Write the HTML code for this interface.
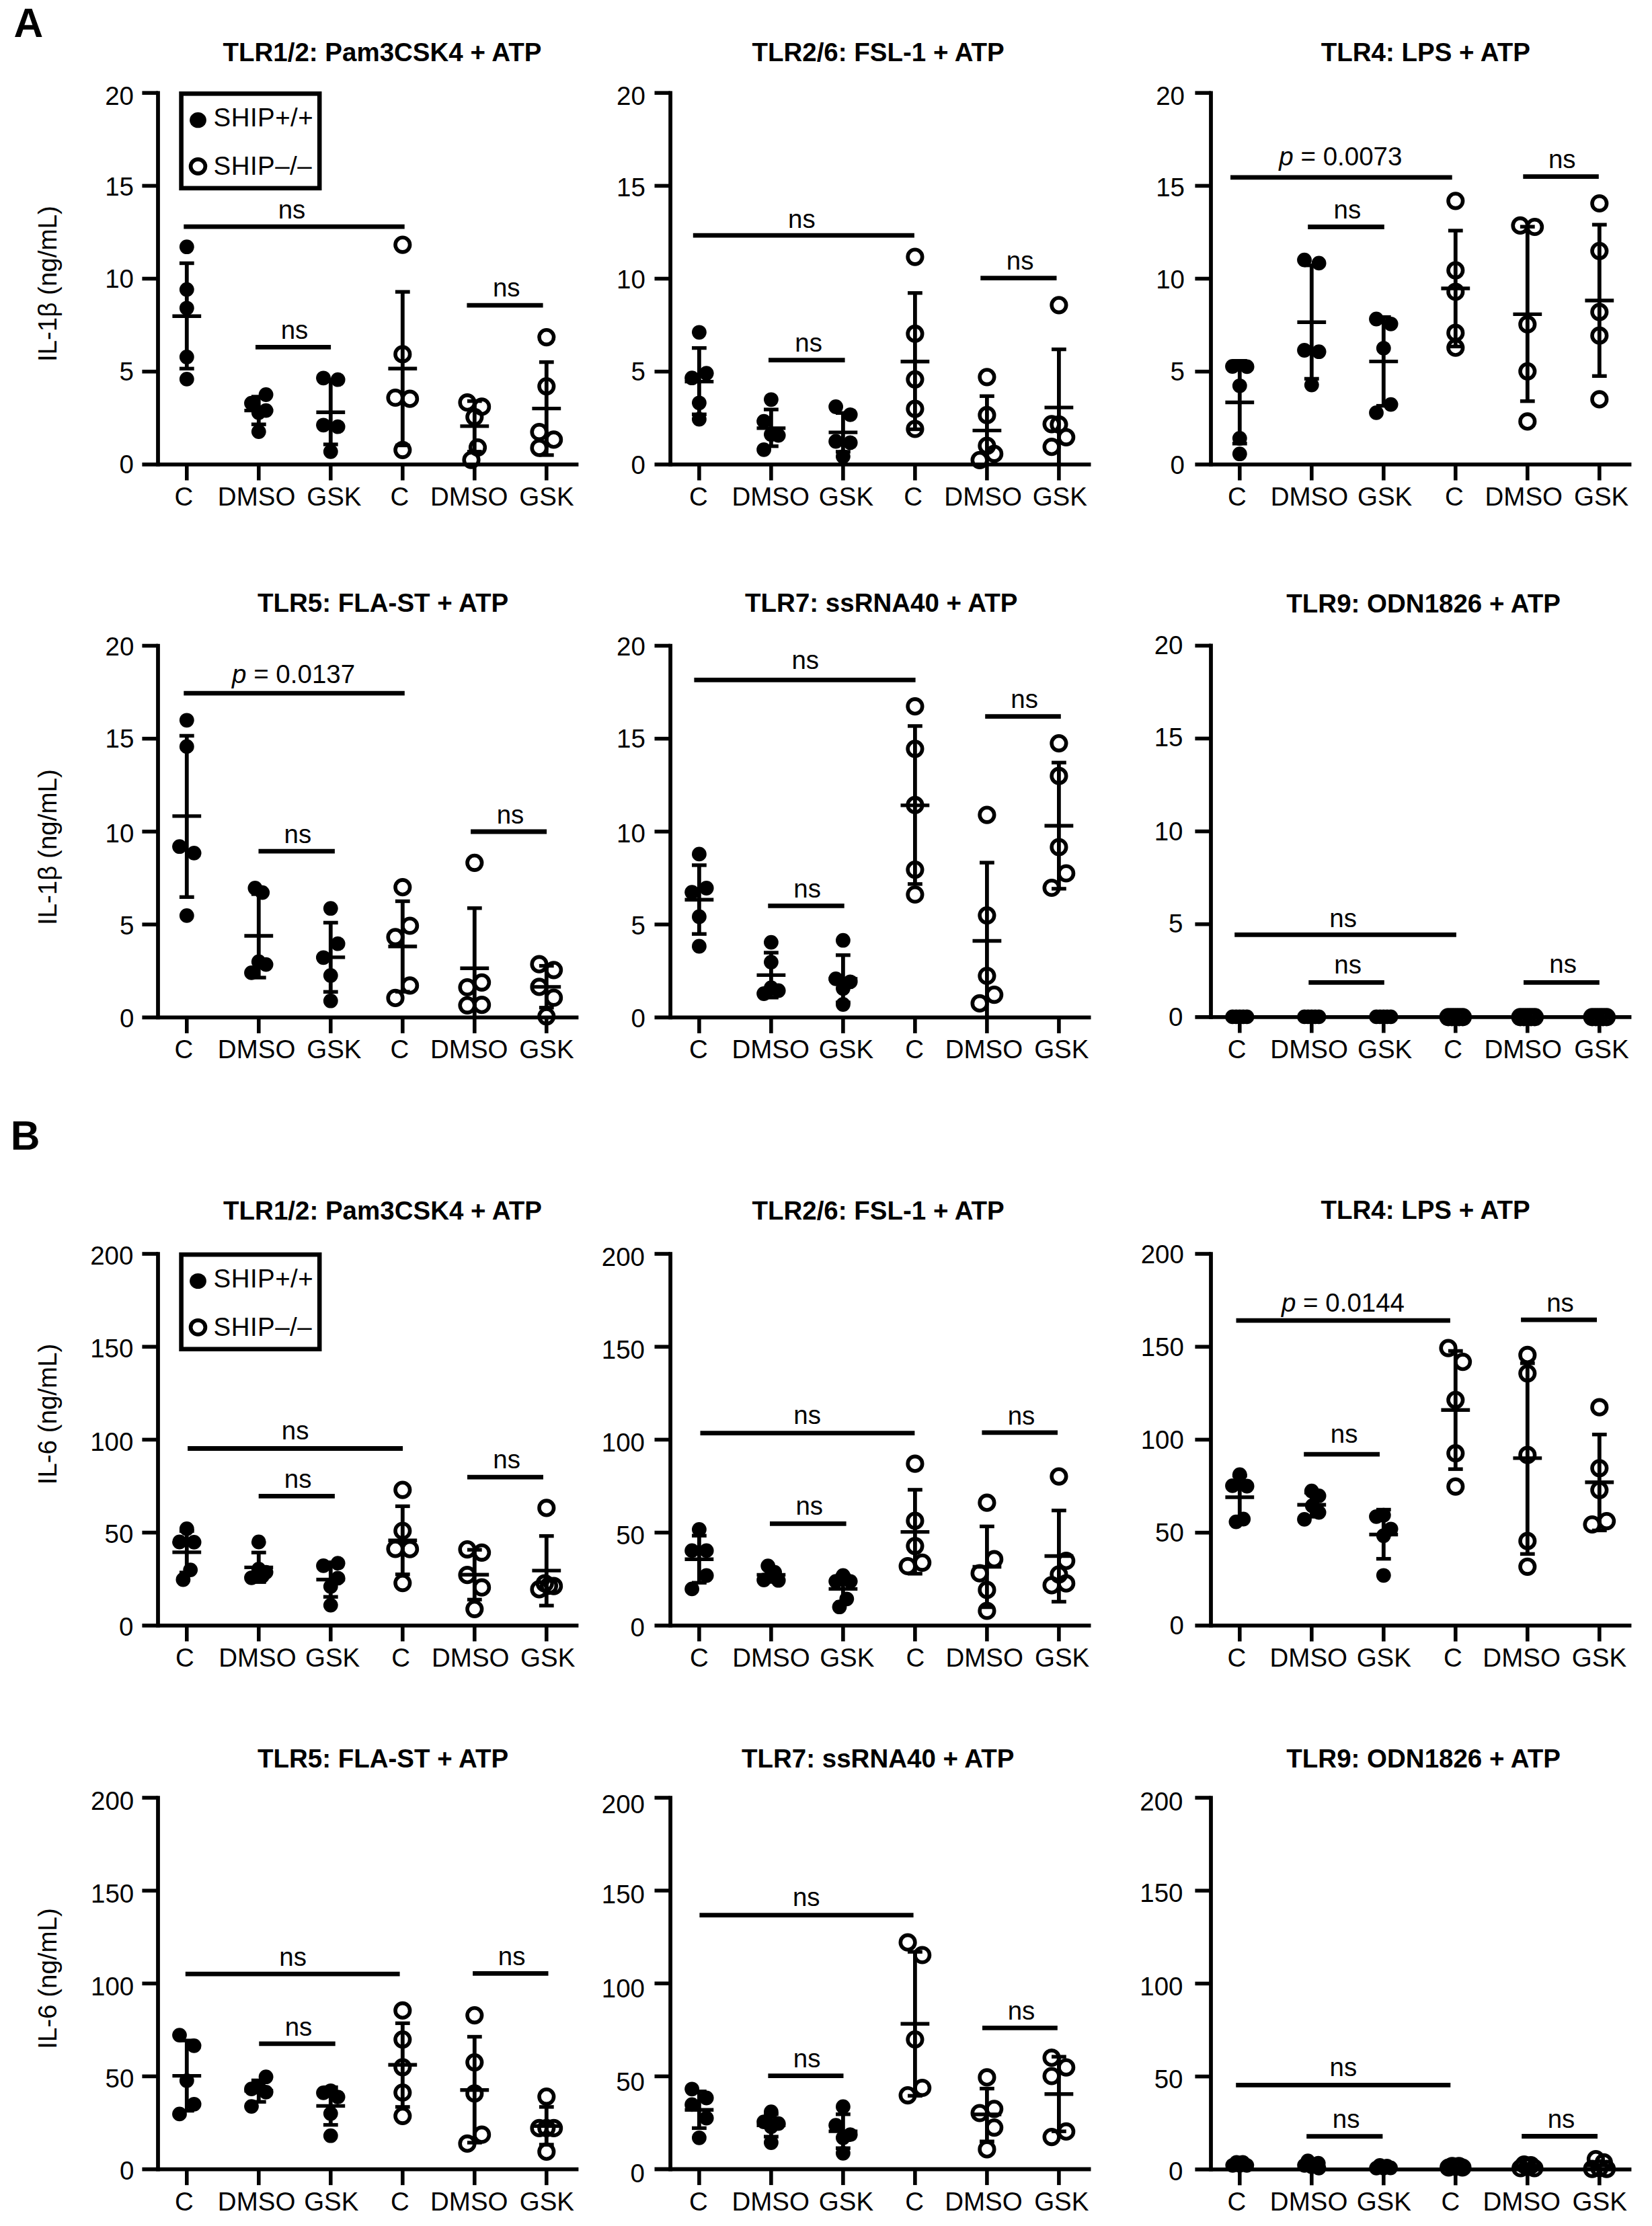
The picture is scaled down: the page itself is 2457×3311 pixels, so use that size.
<!DOCTYPE html>
<html lang="en"><head><meta charset="utf-8"><title>Figure</title>
<style>html,body{margin:0;padding:0;background:#fff}body{width:2457px;height:3311px;overflow:hidden}svg{display:block}text{font-family:"Liberation Sans",sans-serif;font-size:38.5px;fill:#000}.b{font-weight:bold}.m{text-anchor:middle}.e{text-anchor:end}.ln{stroke:#000;fill:none}.op{fill:none;stroke:#000;stroke-width:5.6}</style></head><body>
<svg width="2457" height="3311" viewBox="0 0 2457 3311">
<rect width="2457" height="3311" fill="#fff"/>
<text class="b" x="20.6" y="54.8" style="font-size:60.5px">A</text>
<text class="b" x="15.8" y="1709.8" style="font-size:60.5px">B</text>
<text class="m" transform="translate(83.8 422.2) rotate(-90)">IL-1β (ng/mL)</text>
<text class="m" transform="translate(83.8 1260.2) rotate(-90)">IL-1β (ng/mL)</text>
<text class="m" transform="translate(83.8 2103.5) rotate(-90)">IL-6 (ng/mL)</text>
<text class="m" transform="translate(83.8 2943) rotate(-90)">IL-6 (ng/mL)</text>
<g id="A1">
<text class="b m" x="568.4" y="90.8">TLR1/2: Pam3CSK4 + ATP</text>
<line class="ln" x1="235" y1="135.4" x2="235" y2="693.8" stroke-width="5.8"/>
<line class="ln" x1="211.4" y1="690.9" x2="860.4" y2="690.9" stroke-width="5.8"/>
<text class="e" x="199" y="704.3">0</text>
<line class="ln" x1="211.4" y1="552.7" x2="235" y2="552.7" stroke-width="5.6"/>
<text class="e" x="199" y="565.8">5</text>
<line class="ln" x1="211.4" y1="414.5" x2="235" y2="414.5" stroke-width="5.6"/>
<text class="e" x="199" y="427.7">10</text>
<line class="ln" x1="211.4" y1="276.4" x2="235" y2="276.4" stroke-width="5.6"/>
<text class="e" x="199" y="291.1">15</text>
<line class="ln" x1="211.4" y1="138.2" x2="235" y2="138.2" stroke-width="5.6"/>
<text class="e" x="199" y="155.6">20</text>
<line class="ln" x1="277.8" y1="690.9" x2="277.8" y2="714.5" stroke-width="5.6"/>
<text class="m" x="273.4" y="751.9">C</text>
<line class="ln" x1="384.8" y1="690.9" x2="384.8" y2="714.5" stroke-width="5.6"/>
<text class="m" x="381.6" y="751.9">DMSO</text>
<line class="ln" x1="491.8" y1="690.9" x2="491.8" y2="714.5" stroke-width="5.6"/>
<text class="m" x="496.9" y="751.9">GSK</text>
<line class="ln" x1="598.8" y1="690.9" x2="598.8" y2="714.5" stroke-width="5.6"/>
<text class="m" x="594.5" y="751.9">C</text>
<line class="ln" x1="705.8" y1="690.9" x2="705.8" y2="714.5" stroke-width="5.6"/>
<text class="m" x="697.8" y="751.9">DMSO</text>
<line class="ln" x1="812.8" y1="690.9" x2="812.8" y2="714.5" stroke-width="5.6"/>
<text class="m" x="813" y="751.9">GSK</text>
<line class="ln" x1="277.8" y1="391.5" x2="277.8" y2="548.3" stroke-width="5.8"/>
<line class="ln" x1="266.9" y1="391.5" x2="288.7" y2="391.5" stroke-width="5.4"/>
<line class="ln" x1="266.9" y1="548.3" x2="288.7" y2="548.3" stroke-width="5.4"/>
<line class="ln" x1="256.4" y1="470.3" x2="299.2" y2="470.3" stroke-width="5.4"/>
<circle cx="277.8" cy="367.2" r="10.9"/>
<circle cx="277.8" cy="430.6" r="10.9"/>
<circle cx="277.8" cy="458.3" r="10.9"/>
<circle cx="277.8" cy="531" r="10.9"/>
<circle cx="277.8" cy="563.9" r="10.9"/>
<line class="ln" x1="384.8" y1="590" x2="384.8" y2="631.2" stroke-width="5.8"/>
<line class="ln" x1="373.9" y1="590" x2="395.7" y2="590" stroke-width="5.4"/>
<line class="ln" x1="373.9" y1="631.2" x2="395.7" y2="631.2" stroke-width="5.4"/>
<line class="ln" x1="363.4" y1="610.6" x2="406.2" y2="610.6" stroke-width="5.4"/>
<circle cx="395.6" cy="587" r="10.9"/>
<circle cx="374" cy="599.7" r="10.9"/>
<circle cx="395.6" cy="610.6" r="10.9"/>
<circle cx="384.8" cy="613.7" r="10.9"/>
<circle cx="384.8" cy="642.1" r="10.9"/>
<line class="ln" x1="491.8" y1="565.6" x2="491.8" y2="661" stroke-width="5.8"/>
<line class="ln" x1="480.9" y1="565.6" x2="502.7" y2="565.6" stroke-width="5.4"/>
<line class="ln" x1="480.9" y1="661" x2="502.7" y2="661" stroke-width="5.4"/>
<line class="ln" x1="470.4" y1="613.3" x2="513.2" y2="613.3" stroke-width="5.4"/>
<circle cx="481" cy="562.3" r="10.9"/>
<circle cx="502.6" cy="564.7" r="10.9"/>
<circle cx="481" cy="632.3" r="10.9"/>
<circle cx="502.6" cy="634.7" r="10.9"/>
<circle cx="491.8" cy="671.8" r="10.9"/>
<line class="ln" x1="598.8" y1="434.1" x2="598.8" y2="662.5" stroke-width="5.8"/>
<line class="ln" x1="587.9" y1="434.1" x2="609.7" y2="434.1" stroke-width="5.4"/>
<line class="ln" x1="587.9" y1="662.5" x2="609.7" y2="662.5" stroke-width="5.4"/>
<line class="ln" x1="577.4" y1="548.3" x2="620.2" y2="548.3" stroke-width="5.4"/>
<circle class="op" cx="598.8" cy="364.1" r="10.8"/>
<circle class="op" cx="598.8" cy="526.9" r="10.8"/>
<circle class="op" cx="588" cy="591.5" r="10.8"/>
<circle class="op" cx="609.6" cy="593.2" r="10.8"/>
<circle class="op" cx="598.8" cy="669.3" r="10.8"/>
<line class="ln" x1="705.8" y1="596.6" x2="705.8" y2="671.8" stroke-width="5.8"/>
<line class="ln" x1="694.9" y1="596.6" x2="716.7" y2="596.6" stroke-width="5.4"/>
<line class="ln" x1="694.9" y1="671.8" x2="716.7" y2="671.8" stroke-width="5.4"/>
<line class="ln" x1="684.4" y1="633.9" x2="727.2" y2="633.9" stroke-width="5.4"/>
<circle class="op" cx="695" cy="598.7" r="10.8"/>
<circle class="op" cx="716.6" cy="604.9" r="10.8"/>
<circle class="op" cx="705.8" cy="620.3" r="10.8"/>
<circle class="op" cx="710.5" cy="665.6" r="10.8"/>
<circle class="op" cx="701" cy="684.1" r="10.8"/>
<line class="ln" x1="812.8" y1="538.6" x2="812.8" y2="676.9" stroke-width="5.8"/>
<line class="ln" x1="801.9" y1="538.6" x2="823.7" y2="538.6" stroke-width="5.4"/>
<line class="ln" x1="801.9" y1="676.9" x2="823.7" y2="676.9" stroke-width="5.4"/>
<line class="ln" x1="791.4" y1="607.6" x2="834.2" y2="607.6" stroke-width="5.4"/>
<circle class="op" cx="812.8" cy="501.6" r="10.8"/>
<circle class="op" cx="812.8" cy="574.6" r="10.8"/>
<circle class="op" cx="802" cy="642.5" r="10.8"/>
<circle class="op" cx="823.6" cy="653.9" r="10.8"/>
<circle class="op" cx="802" cy="666.2" r="10.8"/>
<line class="ln" x1="273.3" y1="337.1" x2="601.7" y2="337.1" stroke-width="6.8"/>
<text class="m" x="434" y="325.2">ns</text>
<line class="ln" x1="380" y1="516.4" x2="492.1" y2="516.4" stroke-width="6.8"/>
<text class="m" x="438" y="503.6">ns</text>
<line class="ln" x1="694.4" y1="454.2" x2="807.6" y2="454.2" stroke-width="6.8"/>
<text class="m" x="753.3" y="441.3">ns</text>
<rect class="ln" x="269.6" y="139.3" width="205.6" height="140.6" stroke-width="6.6"/>
<ellipse cx="294.5" cy="178.7" rx="12.4" ry="11.6"/>
<ellipse class="op" cx="294.5" cy="247.5" rx="10.9" ry="10.5" style="stroke-width:5.8"/>
<text x="317.5" y="188.2" style="letter-spacing:0.45px">SHIP+/+</text>
<text x="317.5" y="260.2" style="letter-spacing:0.45px">SHIP–/–</text>
</g>
<g id="A2">
<text class="b m" x="1306.1" y="90.8">TLR2/6: FSL-1 + ATP</text>
<line class="ln" x1="997.1" y1="135.4" x2="997.1" y2="693.8" stroke-width="5.8"/>
<line class="ln" x1="973.5" y1="690.9" x2="1622.5" y2="690.9" stroke-width="5.8"/>
<text class="e" x="959.8" y="704.9">0</text>
<line class="ln" x1="973.5" y1="552.7" x2="997.1" y2="552.7" stroke-width="5.6"/>
<text class="e" x="959.8" y="566.4">5</text>
<line class="ln" x1="973.5" y1="414.5" x2="997.1" y2="414.5" stroke-width="5.6"/>
<text class="e" x="959.8" y="428.8">10</text>
<line class="ln" x1="973.5" y1="276.4" x2="997.1" y2="276.4" stroke-width="5.6"/>
<text class="e" x="959.8" y="292">15</text>
<line class="ln" x1="973.5" y1="138.2" x2="997.1" y2="138.2" stroke-width="5.6"/>
<text class="e" x="959.8" y="155.7">20</text>
<line class="ln" x1="1039.9" y1="690.9" x2="1039.9" y2="714.5" stroke-width="5.6"/>
<text class="m" x="1038.9" y="751.9">C</text>
<line class="ln" x1="1146.9" y1="690.9" x2="1146.9" y2="714.5" stroke-width="5.6"/>
<text class="m" x="1146.2" y="751.9">DMSO</text>
<line class="ln" x1="1253.9" y1="690.9" x2="1253.9" y2="714.5" stroke-width="5.6"/>
<text class="m" x="1258.5" y="751.9">GSK</text>
<line class="ln" x1="1360.9" y1="690.9" x2="1360.9" y2="714.5" stroke-width="5.6"/>
<text class="m" x="1358.2" y="751.9">C</text>
<line class="ln" x1="1467.9" y1="690.9" x2="1467.9" y2="714.5" stroke-width="5.6"/>
<text class="m" x="1462.1" y="751.9">DMSO</text>
<line class="ln" x1="1574.9" y1="690.9" x2="1574.9" y2="714.5" stroke-width="5.6"/>
<text class="m" x="1576.3" y="751.9">GSK</text>
<line class="ln" x1="1039.9" y1="517.6" x2="1039.9" y2="616.3" stroke-width="5.8"/>
<line class="ln" x1="1029" y1="517.6" x2="1050.8" y2="517.6" stroke-width="5.4"/>
<line class="ln" x1="1029" y1="616.3" x2="1050.8" y2="616.3" stroke-width="5.4"/>
<line class="ln" x1="1018.5" y1="567.6" x2="1061.3" y2="567.6" stroke-width="5.4"/>
<circle cx="1039.9" cy="494.3" r="10.9"/>
<circle cx="1050.7" cy="555.2" r="10.9"/>
<circle cx="1029.1" cy="562.2" r="10.9"/>
<circle cx="1039.9" cy="599.3" r="10.9"/>
<circle cx="1039.9" cy="623.6" r="10.9"/>
<line class="ln" x1="1146.9" y1="609.1" x2="1146.9" y2="663.7" stroke-width="5.8"/>
<line class="ln" x1="1136" y1="609.1" x2="1157.8" y2="609.1" stroke-width="5.4"/>
<line class="ln" x1="1136" y1="663.7" x2="1157.8" y2="663.7" stroke-width="5.4"/>
<line class="ln" x1="1125.5" y1="636.9" x2="1168.3" y2="636.9" stroke-width="5.4"/>
<circle cx="1146.9" cy="594.3" r="10.9"/>
<circle cx="1136.1" cy="626.6" r="10.9"/>
<circle cx="1146.9" cy="646.2" r="10.9"/>
<circle cx="1157.7" cy="647.6" r="10.9"/>
<circle cx="1136.1" cy="668.8" r="10.9"/>
<line class="ln" x1="1253.9" y1="614.3" x2="1253.9" y2="671.9" stroke-width="5.8"/>
<line class="ln" x1="1243" y1="614.3" x2="1264.8" y2="614.3" stroke-width="5.4"/>
<line class="ln" x1="1243" y1="671.9" x2="1264.8" y2="671.9" stroke-width="5.4"/>
<line class="ln" x1="1232.5" y1="643.1" x2="1275.3" y2="643.1" stroke-width="5.4"/>
<circle cx="1243.1" cy="605" r="10.9"/>
<circle cx="1264.7" cy="616.8" r="10.9"/>
<circle cx="1243.1" cy="656.5" r="10.9"/>
<circle cx="1264.7" cy="658.5" r="10.9"/>
<circle cx="1253.9" cy="679.1" r="10.9"/>
<line class="ln" x1="1360.9" y1="435.8" x2="1360.9" y2="638.5" stroke-width="5.8"/>
<line class="ln" x1="1350" y1="435.8" x2="1371.8" y2="435.8" stroke-width="5.4"/>
<line class="ln" x1="1350" y1="638.5" x2="1371.8" y2="638.5" stroke-width="5.4"/>
<line class="ln" x1="1339.5" y1="537.7" x2="1382.3" y2="537.7" stroke-width="5.4"/>
<circle class="op" cx="1360.9" cy="382.1" r="10.8"/>
<circle class="op" cx="1360.9" cy="496.4" r="10.8"/>
<circle class="op" cx="1360.9" cy="564.3" r="10.8"/>
<circle class="op" cx="1360.9" cy="608.1" r="10.8"/>
<circle class="op" cx="1360.9" cy="638" r="10.8"/>
<line class="ln" x1="1467.9" y1="589.2" x2="1467.9" y2="690.9" stroke-width="5.8"/>
<line class="ln" x1="1457" y1="589.2" x2="1478.8" y2="589.2" stroke-width="5.4"/>
<line class="ln" x1="1446.5" y1="640.4" x2="1489.3" y2="640.4" stroke-width="5.4"/>
<circle class="op" cx="1467.9" cy="560.8" r="10.8"/>
<circle class="op" cx="1467.9" cy="617.4" r="10.8"/>
<circle class="op" cx="1467.9" cy="663.1" r="10.8"/>
<circle class="op" cx="1478.7" cy="675" r="10.8"/>
<circle class="op" cx="1457.1" cy="684.3" r="10.8"/>
<line class="ln" x1="1574.9" y1="519.6" x2="1574.9" y2="690.9" stroke-width="5.8"/>
<line class="ln" x1="1564" y1="519.6" x2="1585.8" y2="519.6" stroke-width="5.4"/>
<line class="ln" x1="1553.5" y1="606.1" x2="1596.3" y2="606.1" stroke-width="5.4"/>
<circle class="op" cx="1574.9" cy="453.8" r="10.8"/>
<circle class="op" cx="1564.1" cy="630.8" r="10.8"/>
<circle class="op" cx="1574.9" cy="631.4" r="10.8"/>
<circle class="op" cx="1585.7" cy="650.3" r="10.8"/>
<circle class="op" cx="1564.1" cy="664.7" r="10.8"/>
<line class="ln" x1="1030.8" y1="350.2" x2="1359.9" y2="350.2" stroke-width="6.8"/>
<text class="m" x="1192.4" y="339.1">ns</text>
<line class="ln" x1="1143" y1="535.7" x2="1256.6" y2="535.7" stroke-width="6.8"/>
<text class="m" x="1202.7" y="522.7">ns</text>
<line class="ln" x1="1458.3" y1="413.6" x2="1571.5" y2="413.6" stroke-width="6.8"/>
<text class="m" x="1517.2" y="401.3">ns</text>
</g>
<g id="A3">
<text class="b m" x="2120.4" y="90.8">TLR4: LPS + ATP</text>
<line class="ln" x1="1801" y1="135.4" x2="1801" y2="693.8" stroke-width="5.8"/>
<line class="ln" x1="1777.4" y1="690.9" x2="2426.4" y2="690.9" stroke-width="5.8"/>
<text class="e" x="1762" y="704.6">0</text>
<line class="ln" x1="1777.4" y1="552.7" x2="1801" y2="552.7" stroke-width="5.6"/>
<text class="e" x="1762" y="566.4">5</text>
<line class="ln" x1="1777.4" y1="414.5" x2="1801" y2="414.5" stroke-width="5.6"/>
<text class="e" x="1762" y="428.8">10</text>
<line class="ln" x1="1777.4" y1="276.4" x2="1801" y2="276.4" stroke-width="5.6"/>
<text class="e" x="1762" y="292">15</text>
<line class="ln" x1="1777.4" y1="138.2" x2="1801" y2="138.2" stroke-width="5.6"/>
<text class="e" x="1762" y="155.7">20</text>
<line class="ln" x1="1843.8" y1="690.9" x2="1843.8" y2="714.5" stroke-width="5.6"/>
<text class="m" x="1839.8" y="751.9">C</text>
<line class="ln" x1="1950.8" y1="690.9" x2="1950.8" y2="714.5" stroke-width="5.6"/>
<text class="m" x="1947.4" y="751.9">DMSO</text>
<line class="ln" x1="2057.8" y1="690.9" x2="2057.8" y2="714.5" stroke-width="5.6"/>
<text class="m" x="2059.6" y="751.9">GSK</text>
<line class="ln" x1="2164.8" y1="690.9" x2="2164.8" y2="714.5" stroke-width="5.6"/>
<text class="m" x="2162.8" y="751.9">C</text>
<line class="ln" x1="2271.8" y1="690.9" x2="2271.8" y2="714.5" stroke-width="5.6"/>
<text class="m" x="2266.3" y="751.9">DMSO</text>
<line class="ln" x1="2378.8" y1="690.9" x2="2378.8" y2="714.5" stroke-width="5.6"/>
<text class="m" x="2381.6" y="751.9">GSK</text>
<line class="ln" x1="1843.8" y1="536.7" x2="1843.8" y2="659.8" stroke-width="5.8"/>
<line class="ln" x1="1832.9" y1="536.7" x2="1854.7" y2="536.7" stroke-width="5.4"/>
<line class="ln" x1="1832.9" y1="659.8" x2="1854.7" y2="659.8" stroke-width="5.4"/>
<line class="ln" x1="1822.4" y1="598.5" x2="1865.2" y2="598.5" stroke-width="5.4"/>
<circle cx="1833" cy="545" r="10.9"/>
<circle cx="1854.6" cy="545.4" r="10.9"/>
<circle cx="1843.8" cy="573.8" r="10.9"/>
<circle cx="1843.8" cy="652" r="10.9"/>
<circle cx="1843.8" cy="675.2" r="10.9"/>
<line class="ln" x1="1950.8" y1="394.7" x2="1950.8" y2="563.4" stroke-width="5.8"/>
<line class="ln" x1="1939.9" y1="394.7" x2="1961.7" y2="394.7" stroke-width="5.4"/>
<line class="ln" x1="1939.9" y1="563.4" x2="1961.7" y2="563.4" stroke-width="5.4"/>
<line class="ln" x1="1929.4" y1="479.2" x2="1972.2" y2="479.2" stroke-width="5.4"/>
<circle cx="1940" cy="386.6" r="10.9"/>
<circle cx="1961.6" cy="391.4" r="10.9"/>
<circle cx="1940" cy="521" r="10.9"/>
<circle cx="1961.6" cy="523.2" r="10.9"/>
<circle cx="1950.8" cy="572.6" r="10.9"/>
<line class="ln" x1="2057.8" y1="471.6" x2="2057.8" y2="603.6" stroke-width="5.8"/>
<line class="ln" x1="2046.9" y1="471.6" x2="2068.7" y2="471.6" stroke-width="5.4"/>
<line class="ln" x1="2046.9" y1="603.6" x2="2068.7" y2="603.6" stroke-width="5.4"/>
<line class="ln" x1="2036.4" y1="537.6" x2="2079.2" y2="537.6" stroke-width="5.4"/>
<circle cx="2047" cy="474.5" r="10.9"/>
<circle cx="2068.6" cy="481.8" r="10.9"/>
<circle cx="2057.8" cy="517.9" r="10.9"/>
<circle cx="2068.6" cy="601.6" r="10.9"/>
<circle cx="2047" cy="613.9" r="10.9"/>
<line class="ln" x1="2164.8" y1="343" x2="2164.8" y2="515.4" stroke-width="5.8"/>
<line class="ln" x1="2153.9" y1="343" x2="2175.7" y2="343" stroke-width="5.4"/>
<line class="ln" x1="2153.9" y1="515.4" x2="2175.7" y2="515.4" stroke-width="5.4"/>
<line class="ln" x1="2143.4" y1="429" x2="2186.2" y2="429" stroke-width="5.4"/>
<circle class="op" cx="2164.8" cy="298.8" r="10.8"/>
<circle class="op" cx="2164.8" cy="402.1" r="10.8"/>
<circle class="op" cx="2164.8" cy="434" r="10.8"/>
<circle class="op" cx="2164.8" cy="495.2" r="10.8"/>
<circle class="op" cx="2164.8" cy="517.2" r="10.8"/>
<line class="ln" x1="2271.8" y1="337.2" x2="2271.8" y2="596.7" stroke-width="5.8"/>
<line class="ln" x1="2260.9" y1="337.2" x2="2282.7" y2="337.2" stroke-width="5.4"/>
<line class="ln" x1="2260.9" y1="596.7" x2="2282.7" y2="596.7" stroke-width="5.4"/>
<line class="ln" x1="2250.4" y1="467.4" x2="2293.2" y2="467.4" stroke-width="5.4"/>
<circle class="op" cx="2261" cy="335.4" r="10.8"/>
<circle class="op" cx="2282.6" cy="337.5" r="10.8"/>
<circle class="op" cx="2271.8" cy="482.4" r="10.8"/>
<circle class="op" cx="2271.8" cy="552.3" r="10.8"/>
<circle class="op" cx="2271.8" cy="626.9" r="10.8"/>
<line class="ln" x1="2378.8" y1="334.2" x2="2378.8" y2="559.3" stroke-width="5.8"/>
<line class="ln" x1="2367.9" y1="334.2" x2="2389.7" y2="334.2" stroke-width="5.4"/>
<line class="ln" x1="2367.9" y1="559.3" x2="2389.7" y2="559.3" stroke-width="5.4"/>
<line class="ln" x1="2357.4" y1="447" x2="2400.2" y2="447" stroke-width="5.4"/>
<circle class="op" cx="2378.8" cy="302.5" r="10.8"/>
<circle class="op" cx="2378.8" cy="373.3" r="10.8"/>
<circle class="op" cx="2378.8" cy="464.1" r="10.8"/>
<circle class="op" cx="2378.8" cy="499.2" r="10.8"/>
<circle class="op" cx="2378.8" cy="593.9" r="10.8"/>
<line class="ln" x1="1830" y1="263.8" x2="2159.7" y2="263.8" stroke-width="6.8"/>
<text class="m" x="1993.9" y="246.3"><tspan font-style="italic">p</tspan> = 0.0073</text>
<line class="ln" x1="1945.2" y1="337.5" x2="2058.8" y2="337.5" stroke-width="6.8"/>
<text class="m" x="2003.9" y="324.5">ns</text>
<line class="ln" x1="2265.3" y1="262.7" x2="2377.8" y2="262.7" stroke-width="6.8"/>
<text class="m" x="2323.3" y="250">ns</text>
</g>
<g id="A4">
<text class="b m" x="569.6" y="910.2">TLR5: FLA-ST + ATP</text>
<line class="ln" x1="235" y1="957.7" x2="235" y2="1516.2" stroke-width="5.8"/>
<line class="ln" x1="211.4" y1="1513.3" x2="860.4" y2="1513.3" stroke-width="5.8"/>
<text class="e" x="199.3" y="1527.6">0</text>
<line class="ln" x1="211.4" y1="1375.1" x2="235" y2="1375.1" stroke-width="5.6"/>
<text class="e" x="199.3" y="1389.8">5</text>
<line class="ln" x1="211.4" y1="1236.9" x2="235" y2="1236.9" stroke-width="5.6"/>
<text class="e" x="199.3" y="1252.8">10</text>
<line class="ln" x1="211.4" y1="1098.7" x2="235" y2="1098.7" stroke-width="5.6"/>
<text class="e" x="199.3" y="1112.3">15</text>
<line class="ln" x1="211.4" y1="960.5" x2="235" y2="960.5" stroke-width="5.6"/>
<text class="e" x="199.3" y="975">20</text>
<line class="ln" x1="277.8" y1="1513.3" x2="277.8" y2="1536.9" stroke-width="5.6"/>
<text class="m" x="273.4" y="1574.3">C</text>
<line class="ln" x1="384.8" y1="1513.3" x2="384.8" y2="1536.9" stroke-width="5.6"/>
<text class="m" x="381.6" y="1574.3">DMSO</text>
<line class="ln" x1="491.8" y1="1513.3" x2="491.8" y2="1536.9" stroke-width="5.6"/>
<text class="m" x="496.9" y="1574.3">GSK</text>
<line class="ln" x1="598.8" y1="1513.3" x2="598.8" y2="1536.9" stroke-width="5.6"/>
<text class="m" x="594.5" y="1574.3">C</text>
<line class="ln" x1="705.8" y1="1513.3" x2="705.8" y2="1536.9" stroke-width="5.6"/>
<text class="m" x="697.8" y="1574.3">DMSO</text>
<line class="ln" x1="812.8" y1="1513.3" x2="812.8" y2="1536.9" stroke-width="5.6"/>
<text class="m" x="813" y="1574.3">GSK</text>
<line class="ln" x1="277.8" y1="1094.4" x2="277.8" y2="1334.3" stroke-width="5.8"/>
<line class="ln" x1="266.9" y1="1094.4" x2="288.7" y2="1094.4" stroke-width="5.4"/>
<line class="ln" x1="266.9" y1="1334.3" x2="288.7" y2="1334.3" stroke-width="5.4"/>
<line class="ln" x1="256.4" y1="1213.9" x2="299.2" y2="1213.9" stroke-width="5.4"/>
<circle cx="277.8" cy="1071.3" r="10.9"/>
<circle cx="277.8" cy="1110.4" r="10.9"/>
<circle cx="267" cy="1259.2" r="10.9"/>
<circle cx="288.6" cy="1268.9" r="10.9"/>
<circle cx="277.8" cy="1361.9" r="10.9"/>
<line class="ln" x1="384.8" y1="1330" x2="384.8" y2="1454.1" stroke-width="5.8"/>
<line class="ln" x1="373.9" y1="1330" x2="395.7" y2="1330" stroke-width="5.4"/>
<line class="ln" x1="373.9" y1="1454.1" x2="395.7" y2="1454.1" stroke-width="5.4"/>
<line class="ln" x1="363.4" y1="1392" x2="406.2" y2="1392" stroke-width="5.4"/>
<circle cx="379.4" cy="1321" r="10.9"/>
<circle cx="390.2" cy="1327.6" r="10.9"/>
<circle cx="384.8" cy="1430.5" r="10.9"/>
<circle cx="395.6" cy="1434.6" r="10.9"/>
<circle cx="374" cy="1446.9" r="10.9"/>
<line class="ln" x1="491.8" y1="1372.4" x2="491.8" y2="1475.3" stroke-width="5.8"/>
<line class="ln" x1="480.9" y1="1372.4" x2="502.7" y2="1372.4" stroke-width="5.4"/>
<line class="ln" x1="480.9" y1="1475.3" x2="502.7" y2="1475.3" stroke-width="5.4"/>
<line class="ln" x1="470.4" y1="1423.9" x2="513.2" y2="1423.9" stroke-width="5.4"/>
<circle cx="491.8" cy="1351.2" r="10.9"/>
<circle cx="502.6" cy="1403.7" r="10.9"/>
<circle cx="481" cy="1424.3" r="10.9"/>
<circle cx="491.8" cy="1451" r="10.9"/>
<circle cx="491.8" cy="1488.7" r="10.9"/>
<line class="ln" x1="598.8" y1="1340.5" x2="598.8" y2="1475.1" stroke-width="5.8"/>
<line class="ln" x1="587.9" y1="1340.5" x2="609.7" y2="1340.5" stroke-width="5.4"/>
<line class="ln" x1="587.9" y1="1475.1" x2="609.7" y2="1475.1" stroke-width="5.4"/>
<line class="ln" x1="577.4" y1="1407.8" x2="620.2" y2="1407.8" stroke-width="5.4"/>
<circle class="op" cx="598.8" cy="1319.7" r="10.8"/>
<circle class="op" cx="609.6" cy="1377" r="10.8"/>
<circle class="op" cx="588" cy="1393.8" r="10.8"/>
<circle class="op" cx="609.6" cy="1465.9" r="10.8"/>
<circle class="op" cx="588" cy="1484.4" r="10.8"/>
<line class="ln" x1="705.8" y1="1350.8" x2="705.8" y2="1513.3" stroke-width="5.8"/>
<line class="ln" x1="694.9" y1="1350.8" x2="716.7" y2="1350.8" stroke-width="5.4"/>
<line class="ln" x1="684.4" y1="1440.3" x2="727.2" y2="1440.3" stroke-width="5.4"/>
<circle class="op" cx="705.8" cy="1283.3" r="10.8"/>
<circle class="op" cx="716.6" cy="1461.3" r="10.8"/>
<circle class="op" cx="695" cy="1468.5" r="10.8"/>
<circle class="op" cx="695" cy="1495.3" r="10.8"/>
<circle class="op" cx="716.6" cy="1494.7" r="10.8"/>
<line class="ln" x1="812.8" y1="1436.6" x2="812.8" y2="1498.8" stroke-width="5.8"/>
<line class="ln" x1="801.9" y1="1436.6" x2="823.7" y2="1436.6" stroke-width="5.4"/>
<line class="ln" x1="801.9" y1="1498.8" x2="823.7" y2="1498.8" stroke-width="5.4"/>
<line class="ln" x1="791.4" y1="1467.9" x2="834.2" y2="1467.9" stroke-width="5.4"/>
<circle class="op" cx="802" cy="1434.2" r="10.8"/>
<circle class="op" cx="823.6" cy="1442.8" r="10.8"/>
<circle class="op" cx="802" cy="1467.9" r="10.8"/>
<circle class="op" cx="823.6" cy="1484" r="10.8"/>
<circle class="op" cx="812.8" cy="1511.8" r="10.8"/>
<line class="ln" x1="273.3" y1="1031.2" x2="601.8" y2="1031.2" stroke-width="6.8"/>
<text class="m" x="436.6" y="1015.6"><tspan font-style="italic">p</tspan> = 0.0137</text>
<line class="ln" x1="384.5" y1="1266.2" x2="497.9" y2="1266.2" stroke-width="6.8"/>
<text class="m" x="442.9" y="1253.5">ns</text>
<line class="ln" x1="700.1" y1="1237" x2="813.1" y2="1237" stroke-width="6.8"/>
<text class="m" x="759" y="1224.6">ns</text>
</g>
<g id="A5">
<text class="b m" x="1310.8" y="910">TLR7: ssRNA40 + ATP</text>
<line class="ln" x1="997.1" y1="957.7" x2="997.1" y2="1516.2" stroke-width="5.8"/>
<line class="ln" x1="973.5" y1="1513.3" x2="1622.5" y2="1513.3" stroke-width="5.8"/>
<text class="e" x="959.8" y="1528.1">0</text>
<line class="ln" x1="973.5" y1="1375.1" x2="997.1" y2="1375.1" stroke-width="5.6"/>
<text class="e" x="959.8" y="1390.1">5</text>
<line class="ln" x1="973.5" y1="1236.9" x2="997.1" y2="1236.9" stroke-width="5.6"/>
<text class="e" x="959.8" y="1252.8">10</text>
<line class="ln" x1="973.5" y1="1098.7" x2="997.1" y2="1098.7" stroke-width="5.6"/>
<text class="e" x="959.8" y="1112.2">15</text>
<line class="ln" x1="973.5" y1="960.5" x2="997.1" y2="960.5" stroke-width="5.6"/>
<text class="e" x="959.8" y="975">20</text>
<line class="ln" x1="1039.9" y1="1513.3" x2="1039.9" y2="1536.9" stroke-width="5.6"/>
<text class="m" x="1038.9" y="1574.3">C</text>
<line class="ln" x1="1146.9" y1="1513.3" x2="1146.9" y2="1536.9" stroke-width="5.6"/>
<text class="m" x="1146.2" y="1574.3">DMSO</text>
<line class="ln" x1="1253.9" y1="1513.3" x2="1253.9" y2="1536.9" stroke-width="5.6"/>
<text class="m" x="1258.5" y="1574.3">GSK</text>
<line class="ln" x1="1360.9" y1="1513.3" x2="1360.9" y2="1536.9" stroke-width="5.6"/>
<text class="m" x="1360.2" y="1574.3">C</text>
<line class="ln" x1="1467.9" y1="1513.3" x2="1467.9" y2="1536.9" stroke-width="5.6"/>
<text class="m" x="1463.5" y="1574.3">DMSO</text>
<line class="ln" x1="1574.9" y1="1513.3" x2="1574.9" y2="1536.9" stroke-width="5.6"/>
<text class="m" x="1578.8" y="1574.3">GSK</text>
<line class="ln" x1="1039.9" y1="1286.9" x2="1039.9" y2="1389.2" stroke-width="5.8"/>
<line class="ln" x1="1029" y1="1286.9" x2="1050.8" y2="1286.9" stroke-width="5.4"/>
<line class="ln" x1="1029" y1="1389.2" x2="1050.8" y2="1389.2" stroke-width="5.4"/>
<line class="ln" x1="1018.5" y1="1338.2" x2="1061.3" y2="1338.2" stroke-width="5.4"/>
<circle cx="1039.9" cy="1270.4" r="10.9"/>
<circle cx="1050.7" cy="1321" r="10.9"/>
<circle cx="1029.1" cy="1327.2" r="10.9"/>
<circle cx="1039.9" cy="1363.5" r="10.9"/>
<circle cx="1039.9" cy="1407.5" r="10.9"/>
<line class="ln" x1="1146.9" y1="1417" x2="1146.9" y2="1483.8" stroke-width="5.8"/>
<line class="ln" x1="1136" y1="1417" x2="1157.8" y2="1417" stroke-width="5.4"/>
<line class="ln" x1="1136" y1="1483.8" x2="1157.8" y2="1483.8" stroke-width="5.4"/>
<line class="ln" x1="1125.5" y1="1450.4" x2="1168.3" y2="1450.4" stroke-width="5.4"/>
<circle cx="1146.9" cy="1401.6" r="10.9"/>
<circle cx="1146.9" cy="1431.1" r="10.9"/>
<circle cx="1146.9" cy="1469.1" r="10.9"/>
<circle cx="1157.7" cy="1473.5" r="10.9"/>
<circle cx="1136.1" cy="1478" r="10.9"/>
<line class="ln" x1="1253.9" y1="1420.7" x2="1253.9" y2="1491" stroke-width="5.8"/>
<line class="ln" x1="1243" y1="1420.7" x2="1264.8" y2="1420.7" stroke-width="5.4"/>
<line class="ln" x1="1243" y1="1491" x2="1264.8" y2="1491" stroke-width="5.4"/>
<line class="ln" x1="1232.5" y1="1456" x2="1275.3" y2="1456" stroke-width="5.4"/>
<circle cx="1253.9" cy="1398.7" r="10.9"/>
<circle cx="1243.1" cy="1455.9" r="10.9"/>
<circle cx="1264.7" cy="1460.3" r="10.9"/>
<circle cx="1253.9" cy="1470.2" r="10.9"/>
<circle cx="1253.9" cy="1494" r="10.9"/>
<line class="ln" x1="1360.9" y1="1079.9" x2="1360.9" y2="1314.9" stroke-width="5.8"/>
<line class="ln" x1="1350" y1="1079.9" x2="1371.8" y2="1079.9" stroke-width="5.4"/>
<line class="ln" x1="1350" y1="1314.9" x2="1371.8" y2="1314.9" stroke-width="5.4"/>
<line class="ln" x1="1339.5" y1="1197.9" x2="1382.3" y2="1197.9" stroke-width="5.4"/>
<circle class="op" cx="1360.9" cy="1050.7" r="10.8"/>
<circle class="op" cx="1360.9" cy="1113.8" r="10.8"/>
<circle class="op" cx="1360.9" cy="1197.4" r="10.8"/>
<circle class="op" cx="1360.9" cy="1293.6" r="10.8"/>
<circle class="op" cx="1360.9" cy="1330.5" r="10.8"/>
<line class="ln" x1="1467.9" y1="1283.1" x2="1467.9" y2="1513.3" stroke-width="5.8"/>
<line class="ln" x1="1457" y1="1283.1" x2="1478.8" y2="1283.1" stroke-width="5.4"/>
<line class="ln" x1="1446.5" y1="1399.5" x2="1489.3" y2="1399.5" stroke-width="5.4"/>
<circle class="op" cx="1467.9" cy="1212.1" r="10.8"/>
<circle class="op" cx="1467.9" cy="1361.6" r="10.8"/>
<circle class="op" cx="1467.9" cy="1451.5" r="10.8"/>
<circle class="op" cx="1478.7" cy="1479.6" r="10.8"/>
<circle class="op" cx="1457.1" cy="1492.4" r="10.8"/>
<line class="ln" x1="1574.9" y1="1134.3" x2="1574.9" y2="1321.9" stroke-width="5.8"/>
<line class="ln" x1="1564" y1="1134.3" x2="1585.8" y2="1134.3" stroke-width="5.4"/>
<line class="ln" x1="1564" y1="1321.9" x2="1585.8" y2="1321.9" stroke-width="5.4"/>
<line class="ln" x1="1553.5" y1="1228.2" x2="1596.3" y2="1228.2" stroke-width="5.4"/>
<circle class="op" cx="1574.9" cy="1105.6" r="10.8"/>
<circle class="op" cx="1574.9" cy="1154.2" r="10.8"/>
<circle class="op" cx="1574.9" cy="1260" r="10.8"/>
<circle class="op" cx="1585.7" cy="1299" r="10.8"/>
<circle class="op" cx="1564.1" cy="1320.5" r="10.8"/>
<line class="ln" x1="1032.4" y1="1011.4" x2="1361.6" y2="1011.4" stroke-width="6.8"/>
<text class="m" x="1197.8" y="994.7">ns</text>
<line class="ln" x1="1142.3" y1="1347.4" x2="1255.7" y2="1347.4" stroke-width="6.8"/>
<text class="m" x="1200.7" y="1335.3">ns</text>
<line class="ln" x1="1465.2" y1="1065.6" x2="1577.8" y2="1065.6" stroke-width="6.8"/>
<text class="m" x="1523.6" y="1053">ns</text>
</g>
<g id="A6">
<text class="b m" x="2117.1" y="910.8">TLR9: ODN1826 + ATP</text>
<line class="ln" x1="1801" y1="957.6" x2="1801" y2="1515.7" stroke-width="5.8"/>
<line class="ln" x1="1777.4" y1="1512.8" x2="2426.4" y2="1512.8" stroke-width="5.8"/>
<text class="e" x="1759.5" y="1525.9">0</text>
<line class="ln" x1="1777.4" y1="1374.7" x2="1801" y2="1374.7" stroke-width="5.6"/>
<text class="e" x="1759.5" y="1387">5</text>
<line class="ln" x1="1777.4" y1="1236.6" x2="1801" y2="1236.6" stroke-width="5.6"/>
<text class="e" x="1759.5" y="1249.7">10</text>
<line class="ln" x1="1777.4" y1="1098.5" x2="1801" y2="1098.5" stroke-width="5.6"/>
<text class="e" x="1759.5" y="1109.7">15</text>
<line class="ln" x1="1777.4" y1="960.4" x2="1801" y2="960.4" stroke-width="5.6"/>
<text class="e" x="1759.5" y="973">20</text>
<line class="ln" x1="1843.8" y1="1512.8" x2="1843.8" y2="1536.4" stroke-width="5.6"/>
<text class="m" x="1839.6" y="1573.8">C</text>
<line class="ln" x1="1950.8" y1="1512.8" x2="1950.8" y2="1536.4" stroke-width="5.6"/>
<text class="m" x="1947.1" y="1573.8">DMSO</text>
<line class="ln" x1="2057.8" y1="1512.8" x2="2057.8" y2="1536.4" stroke-width="5.6"/>
<text class="m" x="2059.6" y="1573.8">GSK</text>
<line class="ln" x1="2164.8" y1="1512.8" x2="2164.8" y2="1536.4" stroke-width="5.6"/>
<text class="m" x="2161.2" y="1573.8">C</text>
<line class="ln" x1="2271.8" y1="1512.8" x2="2271.8" y2="1536.4" stroke-width="5.6"/>
<text class="m" x="2265.2" y="1573.8">DMSO</text>
<line class="ln" x1="2378.8" y1="1512.8" x2="2378.8" y2="1536.4" stroke-width="5.6"/>
<text class="m" x="2382" y="1573.8">GSK</text>
<circle cx="1833.1" cy="1512.4" r="10.9"/>
<circle cx="1838.5" cy="1512.4" r="10.9"/>
<circle cx="1843.8" cy="1512.4" r="10.9"/>
<circle cx="1849.1" cy="1512.4" r="10.9"/>
<circle cx="1854.5" cy="1512.4" r="10.9"/>
<circle cx="1940.1" cy="1512.4" r="10.9"/>
<circle cx="1945.5" cy="1512.4" r="10.9"/>
<circle cx="1950.8" cy="1512.4" r="10.9"/>
<circle cx="1956.1" cy="1512.4" r="10.9"/>
<circle cx="1961.5" cy="1512.4" r="10.9"/>
<circle cx="2047.1" cy="1512.4" r="10.9"/>
<circle cx="2052.5" cy="1512.4" r="10.9"/>
<circle cx="2057.8" cy="1512.4" r="10.9"/>
<circle cx="2063.1" cy="1512.4" r="10.9"/>
<circle cx="2068.5" cy="1512.4" r="10.9"/>
<line class="ln" x1="2143.4" y1="1512.8" x2="2186.2" y2="1512.8" stroke-width="5.4"/>
<circle class="op" cx="2154.1" cy="1512.8" r="10.8"/>
<circle class="op" cx="2159.5" cy="1512.8" r="10.8"/>
<circle class="op" cx="2164.8" cy="1512.8" r="10.8"/>
<circle class="op" cx="2170.1" cy="1512.8" r="10.8"/>
<circle class="op" cx="2175.5" cy="1512.8" r="10.8"/>
<line class="ln" x1="2250.4" y1="1512.8" x2="2293.2" y2="1512.8" stroke-width="5.4"/>
<circle class="op" cx="2261.1" cy="1512.8" r="10.8"/>
<circle class="op" cx="2266.5" cy="1512.8" r="10.8"/>
<circle class="op" cx="2271.8" cy="1512.8" r="10.8"/>
<circle class="op" cx="2277.1" cy="1512.8" r="10.8"/>
<circle class="op" cx="2282.5" cy="1512.8" r="10.8"/>
<line class="ln" x1="2357.4" y1="1512.8" x2="2400.2" y2="1512.8" stroke-width="5.4"/>
<circle class="op" cx="2368.1" cy="1512.8" r="10.8"/>
<circle class="op" cx="2373.5" cy="1512.8" r="10.8"/>
<circle class="op" cx="2378.8" cy="1512.8" r="10.8"/>
<circle class="op" cx="2384.1" cy="1512.8" r="10.8"/>
<circle class="op" cx="2389.5" cy="1512.8" r="10.8"/>
<line class="ln" x1="1836.2" y1="1390.3" x2="2165.9" y2="1390.3" stroke-width="6.8"/>
<text class="m" x="1997.7" y="1378.7">ns</text>
<line class="ln" x1="1946.3" y1="1461.4" x2="2058.8" y2="1461.4" stroke-width="6.8"/>
<text class="m" x="2004.7" y="1448">ns</text>
<line class="ln" x1="2266" y1="1461.4" x2="2378.8" y2="1461.4" stroke-width="6.8"/>
<text class="m" x="2324.7" y="1447.4">ns</text>
</g>
<g id="B1">
<text class="b m" x="569" y="1813.8">TLR1/2: Pam3CSK4 + ATP</text>
<line class="ln" x1="235" y1="1862.2" x2="235" y2="2420.7" stroke-width="5.8"/>
<line class="ln" x1="211.4" y1="2417.8" x2="860.4" y2="2417.8" stroke-width="5.8"/>
<text class="e" x="198.4" y="2432.8">0</text>
<line class="ln" x1="211.4" y1="2279.6" x2="235" y2="2279.6" stroke-width="5.6"/>
<text class="e" x="198.4" y="2295.1">50</text>
<line class="ln" x1="211.4" y1="2141.4" x2="235" y2="2141.4" stroke-width="5.6"/>
<text class="e" x="198.4" y="2157.7">100</text>
<line class="ln" x1="211.4" y1="2003.2" x2="235" y2="2003.2" stroke-width="5.6"/>
<text class="e" x="198.4" y="2018.8">150</text>
<line class="ln" x1="211.4" y1="1865" x2="235" y2="1865" stroke-width="5.6"/>
<text class="e" x="198.4" y="1881.1">200</text>
<line class="ln" x1="277.8" y1="2417.8" x2="277.8" y2="2441.4" stroke-width="5.6"/>
<text class="m" x="275" y="2478.8">C</text>
<line class="ln" x1="384.8" y1="2417.8" x2="384.8" y2="2441.4" stroke-width="5.6"/>
<text class="m" x="382.9" y="2478.8">DMSO</text>
<line class="ln" x1="491.8" y1="2417.8" x2="491.8" y2="2441.4" stroke-width="5.6"/>
<text class="m" x="494.6" y="2478.8">GSK</text>
<line class="ln" x1="598.8" y1="2417.8" x2="598.8" y2="2441.4" stroke-width="5.6"/>
<text class="m" x="596.1" y="2478.8">C</text>
<line class="ln" x1="705.8" y1="2417.8" x2="705.8" y2="2441.4" stroke-width="5.6"/>
<text class="m" x="699.8" y="2478.8">DMSO</text>
<line class="ln" x1="812.8" y1="2417.8" x2="812.8" y2="2441.4" stroke-width="5.6"/>
<text class="m" x="814.7" y="2478.8">GSK</text>
<line class="ln" x1="277.8" y1="2277.2" x2="277.8" y2="2339" stroke-width="5.8"/>
<line class="ln" x1="266.9" y1="2277.2" x2="288.7" y2="2277.2" stroke-width="5.4"/>
<line class="ln" x1="266.9" y1="2339" x2="288.7" y2="2339" stroke-width="5.4"/>
<line class="ln" x1="256.4" y1="2308.9" x2="299.2" y2="2308.9" stroke-width="5.4"/>
<circle cx="277.8" cy="2273.9" r="10.9"/>
<circle cx="267" cy="2293.5" r="10.9"/>
<circle cx="288.6" cy="2293.9" r="10.9"/>
<circle cx="283.2" cy="2335.1" r="10.9"/>
<circle cx="272.4" cy="2349.5" r="10.9"/>
<line class="ln" x1="384.8" y1="2309.3" x2="384.8" y2="2353.2" stroke-width="5.8"/>
<line class="ln" x1="373.9" y1="2309.3" x2="395.7" y2="2309.3" stroke-width="5.4"/>
<line class="ln" x1="373.9" y1="2353.2" x2="395.7" y2="2353.2" stroke-width="5.4"/>
<line class="ln" x1="363.4" y1="2331.4" x2="406.2" y2="2331.4" stroke-width="5.4"/>
<circle cx="384.8" cy="2293.5" r="10.9"/>
<circle cx="384.8" cy="2334" r="10.9"/>
<circle cx="395.6" cy="2338.6" r="10.9"/>
<circle cx="374" cy="2346.8" r="10.9"/>
<circle cx="390.2" cy="2344.3" r="10.9"/>
<line class="ln" x1="491.8" y1="2323.8" x2="491.8" y2="2375.2" stroke-width="5.8"/>
<line class="ln" x1="480.9" y1="2323.8" x2="502.7" y2="2323.8" stroke-width="5.4"/>
<line class="ln" x1="480.9" y1="2375.2" x2="502.7" y2="2375.2" stroke-width="5.4"/>
<line class="ln" x1="470.4" y1="2349.5" x2="513.2" y2="2349.5" stroke-width="5.4"/>
<circle cx="502.6" cy="2325.2" r="10.9"/>
<circle cx="481" cy="2328.9" r="10.9"/>
<circle cx="502.6" cy="2347.4" r="10.9"/>
<circle cx="491.8" cy="2359.8" r="10.9"/>
<circle cx="491.8" cy="2387.6" r="10.9"/>
<line class="ln" x1="598.8" y1="2240.4" x2="598.8" y2="2341.7" stroke-width="5.8"/>
<line class="ln" x1="587.9" y1="2240.4" x2="609.7" y2="2240.4" stroke-width="5.4"/>
<line class="ln" x1="587.9" y1="2341.7" x2="609.7" y2="2341.7" stroke-width="5.4"/>
<line class="ln" x1="577.4" y1="2291.2" x2="620.2" y2="2291.2" stroke-width="5.4"/>
<circle class="op" cx="598.8" cy="2216.1" r="10.8"/>
<circle class="op" cx="598.8" cy="2277" r="10.8"/>
<circle class="op" cx="588" cy="2303.8" r="10.8"/>
<circle class="op" cx="609.6" cy="2304.2" r="10.8"/>
<circle class="op" cx="598.8" cy="2354.6" r="10.8"/>
<line class="ln" x1="705.8" y1="2305.2" x2="705.8" y2="2379.3" stroke-width="5.8"/>
<line class="ln" x1="694.9" y1="2305.2" x2="716.7" y2="2305.2" stroke-width="5.4"/>
<line class="ln" x1="694.9" y1="2379.3" x2="716.7" y2="2379.3" stroke-width="5.4"/>
<line class="ln" x1="684.4" y1="2342.3" x2="727.2" y2="2342.3" stroke-width="5.4"/>
<circle class="op" cx="695" cy="2304.6" r="10.8"/>
<circle class="op" cx="716.6" cy="2309.3" r="10.8"/>
<circle class="op" cx="695" cy="2342.7" r="10.8"/>
<circle class="op" cx="716.6" cy="2361.2" r="10.8"/>
<circle class="op" cx="705.8" cy="2393.3" r="10.8"/>
<line class="ln" x1="812.8" y1="2284.7" x2="812.8" y2="2388.2" stroke-width="5.8"/>
<line class="ln" x1="801.9" y1="2284.7" x2="823.7" y2="2284.7" stroke-width="5.4"/>
<line class="ln" x1="801.9" y1="2388.2" x2="823.7" y2="2388.2" stroke-width="5.4"/>
<line class="ln" x1="791.4" y1="2336.1" x2="834.2" y2="2336.1" stroke-width="5.4"/>
<circle class="op" cx="812.8" cy="2242.9" r="10.8"/>
<circle class="op" cx="802" cy="2363.9" r="10.8"/>
<circle class="op" cx="810.3" cy="2355.2" r="10.8"/>
<circle class="op" cx="816.5" cy="2358.7" r="10.8"/>
<circle class="op" cx="823.6" cy="2359.2" r="10.8"/>
<line class="ln" x1="279.1" y1="2154.5" x2="599.1" y2="2154.5" stroke-width="6.8"/>
<text class="m" x="439.2" y="2141.2">ns</text>
<line class="ln" x1="384.7" y1="2225.4" x2="497.9" y2="2225.4" stroke-width="6.8"/>
<text class="m" x="443.2" y="2212.6">ns</text>
<line class="ln" x1="695" y1="2197.2" x2="808" y2="2197.2" stroke-width="6.8"/>
<text class="m" x="753.6" y="2184.4">ns</text>
<rect class="ln" x="269.6" y="1866.1" width="205.6" height="140.6" stroke-width="6.6"/>
<ellipse cx="294.5" cy="1905.5" rx="12.4" ry="11.6"/>
<ellipse class="op" cx="294.5" cy="1974.3" rx="10.9" ry="10.5" style="stroke-width:5.8"/>
<text x="317.5" y="1915" style="letter-spacing:0.45px">SHIP+/+</text>
<text x="317.5" y="1987" style="letter-spacing:0.45px">SHIP–/–</text>
</g>
<g id="B2">
<text class="b m" x="1306.1" y="1813.5">TLR2/6: FSL-1 + ATP</text>
<line class="ln" x1="997.1" y1="1862.2" x2="997.1" y2="2420.7" stroke-width="5.8"/>
<line class="ln" x1="973.5" y1="2417.8" x2="1622.5" y2="2417.8" stroke-width="5.8"/>
<text class="e" x="959" y="2434.2">0</text>
<line class="ln" x1="973.5" y1="2279.6" x2="997.1" y2="2279.6" stroke-width="5.6"/>
<text class="e" x="959" y="2297.4">50</text>
<line class="ln" x1="973.5" y1="2141.4" x2="997.1" y2="2141.4" stroke-width="5.6"/>
<text class="e" x="959" y="2159.2">100</text>
<line class="ln" x1="973.5" y1="2003.2" x2="997.1" y2="2003.2" stroke-width="5.6"/>
<text class="e" x="959" y="2020.7">150</text>
<line class="ln" x1="973.5" y1="1865" x2="997.1" y2="1865" stroke-width="5.6"/>
<text class="e" x="959" y="1883.1">200</text>
<line class="ln" x1="1039.9" y1="2417.8" x2="1039.9" y2="2441.4" stroke-width="5.6"/>
<text class="m" x="1039.8" y="2478.8">C</text>
<line class="ln" x1="1146.9" y1="2417.8" x2="1146.9" y2="2441.4" stroke-width="5.6"/>
<text class="m" x="1147" y="2478.8">DMSO</text>
<line class="ln" x1="1253.9" y1="2417.8" x2="1253.9" y2="2441.4" stroke-width="5.6"/>
<text class="m" x="1259.8" y="2478.8">GSK</text>
<line class="ln" x1="1360.9" y1="2417.8" x2="1360.9" y2="2441.4" stroke-width="5.6"/>
<text class="m" x="1361.3" y="2478.8">C</text>
<line class="ln" x1="1467.9" y1="2417.8" x2="1467.9" y2="2441.4" stroke-width="5.6"/>
<text class="m" x="1464.2" y="2478.8">DMSO</text>
<line class="ln" x1="1574.9" y1="2417.8" x2="1574.9" y2="2441.4" stroke-width="5.6"/>
<text class="m" x="1579.6" y="2478.8">GSK</text>
<line class="ln" x1="1039.9" y1="2284.2" x2="1039.9" y2="2354.2" stroke-width="5.8"/>
<line class="ln" x1="1029" y1="2284.2" x2="1050.8" y2="2284.2" stroke-width="5.4"/>
<line class="ln" x1="1029" y1="2354.2" x2="1050.8" y2="2354.2" stroke-width="5.4"/>
<line class="ln" x1="1018.5" y1="2319.2" x2="1061.3" y2="2319.2" stroke-width="5.4"/>
<circle cx="1039.9" cy="2274.9" r="10.9"/>
<circle cx="1029.1" cy="2306.4" r="10.9"/>
<circle cx="1050.7" cy="2306.4" r="10.9"/>
<circle cx="1050.7" cy="2343.5" r="10.9"/>
<circle cx="1029.1" cy="2363.4" r="10.9"/>
<line class="ln" x1="1146.9" y1="2333" x2="1146.9" y2="2352" stroke-width="5.8"/>
<line class="ln" x1="1136" y1="2333" x2="1157.8" y2="2333" stroke-width="5.4"/>
<line class="ln" x1="1136" y1="2352" x2="1157.8" y2="2352" stroke-width="5.4"/>
<line class="ln" x1="1125.5" y1="2342.4" x2="1168.3" y2="2342.4" stroke-width="5.4"/>
<circle cx="1142.2" cy="2329.1" r="10.9"/>
<circle cx="1152.1" cy="2338.7" r="10.9"/>
<circle cx="1136.1" cy="2350.1" r="10.9"/>
<circle cx="1157.7" cy="2350.7" r="10.9"/>
<circle cx="1146.9" cy="2344.9" r="10.9"/>
<line class="ln" x1="1253.9" y1="2343" x2="1253.9" y2="2383" stroke-width="5.8"/>
<line class="ln" x1="1243" y1="2343" x2="1264.8" y2="2343" stroke-width="5.4"/>
<line class="ln" x1="1243" y1="2383" x2="1264.8" y2="2383" stroke-width="5.4"/>
<line class="ln" x1="1232.5" y1="2363.4" x2="1275.3" y2="2363.4" stroke-width="5.4"/>
<circle cx="1253.9" cy="2343.5" r="10.9"/>
<circle cx="1243.1" cy="2352.1" r="10.9"/>
<circle cx="1264.7" cy="2352.1" r="10.9"/>
<circle cx="1259.3" cy="2378.3" r="10.9"/>
<circle cx="1248.5" cy="2390.2" r="10.9"/>
<line class="ln" x1="1360.9" y1="2215.9" x2="1360.9" y2="2340.8" stroke-width="5.8"/>
<line class="ln" x1="1350" y1="2215.9" x2="1371.8" y2="2215.9" stroke-width="5.4"/>
<line class="ln" x1="1350" y1="2340.8" x2="1371.8" y2="2340.8" stroke-width="5.4"/>
<line class="ln" x1="1339.5" y1="2278.6" x2="1382.3" y2="2278.6" stroke-width="5.4"/>
<circle class="op" cx="1360.9" cy="2177.2" r="10.8"/>
<circle class="op" cx="1360.9" cy="2262" r="10.8"/>
<circle class="op" cx="1360.9" cy="2299.6" r="10.8"/>
<circle class="op" cx="1371.7" cy="2324.3" r="10.8"/>
<circle class="op" cx="1350.1" cy="2329.5" r="10.8"/>
<line class="ln" x1="1467.9" y1="2270.4" x2="1467.9" y2="2390.6" stroke-width="5.8"/>
<line class="ln" x1="1457" y1="2270.4" x2="1478.8" y2="2270.4" stroke-width="5.4"/>
<line class="ln" x1="1457" y1="2390.6" x2="1478.8" y2="2390.6" stroke-width="5.4"/>
<line class="ln" x1="1446.5" y1="2330.5" x2="1489.3" y2="2330.5" stroke-width="5.4"/>
<circle class="op" cx="1467.9" cy="2235.2" r="10.8"/>
<circle class="op" cx="1478.7" cy="2319.2" r="10.8"/>
<circle class="op" cx="1457.1" cy="2340.2" r="10.8"/>
<circle class="op" cx="1467.9" cy="2364.9" r="10.8"/>
<circle class="op" cx="1467.9" cy="2396" r="10.8"/>
<line class="ln" x1="1574.9" y1="2246.7" x2="1574.9" y2="2382.4" stroke-width="5.8"/>
<line class="ln" x1="1564" y1="2246.7" x2="1585.8" y2="2246.7" stroke-width="5.4"/>
<line class="ln" x1="1564" y1="2382.4" x2="1585.8" y2="2382.4" stroke-width="5.4"/>
<line class="ln" x1="1553.5" y1="2314.5" x2="1596.3" y2="2314.5" stroke-width="5.4"/>
<circle class="op" cx="1574.9" cy="2196.1" r="10.8"/>
<circle class="op" cx="1585.7" cy="2321.7" r="10.8"/>
<circle class="op" cx="1574.9" cy="2341.8" r="10.8"/>
<circle class="op" cx="1564.1" cy="2357.9" r="10.8"/>
<circle class="op" cx="1585.7" cy="2355.2" r="10.8"/>
<line class="ln" x1="1041.5" y1="2131.6" x2="1360.4" y2="2131.6" stroke-width="6.8"/>
<text class="m" x="1200.6" y="2118.1">ns</text>
<line class="ln" x1="1145" y1="2266.3" x2="1258.6" y2="2266.3" stroke-width="6.8"/>
<text class="m" x="1203.8" y="2253.3">ns</text>
<line class="ln" x1="1460.4" y1="2130.9" x2="1573" y2="2130.9" stroke-width="6.8"/>
<text class="m" x="1519" y="2118.5">ns</text>
</g>
<g id="B3">
<text class="b m" x="2120" y="1813.3">TLR4: LPS + ATP</text>
<line class="ln" x1="1801" y1="1862.2" x2="1801" y2="2420.8" stroke-width="5.8"/>
<line class="ln" x1="1777.4" y1="2417.9" x2="2426.4" y2="2417.9" stroke-width="5.8"/>
<text class="e" x="1760.9" y="2431.1">0</text>
<line class="ln" x1="1777.4" y1="2279.7" x2="1801" y2="2279.7" stroke-width="5.6"/>
<text class="e" x="1760.9" y="2292.8">50</text>
<line class="ln" x1="1777.4" y1="2141.4" x2="1801" y2="2141.4" stroke-width="5.6"/>
<text class="e" x="1760.9" y="2154.8">100</text>
<line class="ln" x1="1777.4" y1="2003.2" x2="1801" y2="2003.2" stroke-width="5.6"/>
<text class="e" x="1760.9" y="2016.6">150</text>
<line class="ln" x1="1777.4" y1="1865" x2="1801" y2="1865" stroke-width="5.6"/>
<text class="e" x="1760.9" y="1878.9">200</text>
<line class="ln" x1="1843.8" y1="2417.9" x2="1843.8" y2="2441.5" stroke-width="5.6"/>
<text class="m" x="1839.5" y="2478.9">C</text>
<line class="ln" x1="1950.8" y1="2417.9" x2="1950.8" y2="2441.5" stroke-width="5.6"/>
<text class="m" x="1946.3" y="2478.9">DMSO</text>
<line class="ln" x1="2057.8" y1="2417.9" x2="2057.8" y2="2441.5" stroke-width="5.6"/>
<text class="m" x="2058.3" y="2478.9">GSK</text>
<line class="ln" x1="2164.8" y1="2417.9" x2="2164.8" y2="2441.5" stroke-width="5.6"/>
<text class="m" x="2160.8" y="2478.9">C</text>
<line class="ln" x1="2271.8" y1="2417.9" x2="2271.8" y2="2441.5" stroke-width="5.6"/>
<text class="m" x="2263.1" y="2478.9">DMSO</text>
<line class="ln" x1="2378.8" y1="2417.9" x2="2378.8" y2="2441.5" stroke-width="5.6"/>
<text class="m" x="2378.5" y="2478.9">GSK</text>
<line class="ln" x1="1843.8" y1="2195" x2="1843.8" y2="2259" stroke-width="5.8"/>
<line class="ln" x1="1832.9" y1="2195" x2="1854.7" y2="2195" stroke-width="5.4"/>
<line class="ln" x1="1832.9" y1="2259" x2="1854.7" y2="2259" stroke-width="5.4"/>
<line class="ln" x1="1822.4" y1="2227" x2="1865.2" y2="2227" stroke-width="5.4"/>
<circle cx="1843.8" cy="2193.4" r="10.9"/>
<circle cx="1833" cy="2209.9" r="10.9"/>
<circle cx="1854.6" cy="2210.5" r="10.9"/>
<circle cx="1849.2" cy="2259.5" r="10.9"/>
<circle cx="1838.4" cy="2263.6" r="10.9"/>
<line class="ln" x1="1950.8" y1="2220" x2="1950.8" y2="2256" stroke-width="5.8"/>
<line class="ln" x1="1939.9" y1="2220" x2="1961.7" y2="2220" stroke-width="5.4"/>
<line class="ln" x1="1939.9" y1="2256" x2="1961.7" y2="2256" stroke-width="5.4"/>
<line class="ln" x1="1929.4" y1="2238.3" x2="1972.2" y2="2238.3" stroke-width="5.4"/>
<circle cx="1950.8" cy="2217.7" r="10.9"/>
<circle cx="1961.6" cy="2224.9" r="10.9"/>
<circle cx="1951.8" cy="2239.7" r="10.9"/>
<circle cx="1961.6" cy="2249.6" r="10.9"/>
<circle cx="1940" cy="2259.9" r="10.9"/>
<line class="ln" x1="2057.8" y1="2245.5" x2="2057.8" y2="2318.6" stroke-width="5.8"/>
<line class="ln" x1="2046.9" y1="2245.5" x2="2068.7" y2="2245.5" stroke-width="5.4"/>
<line class="ln" x1="2046.9" y1="2318.6" x2="2068.7" y2="2318.6" stroke-width="5.4"/>
<line class="ln" x1="2036.4" y1="2282.5" x2="2079.2" y2="2282.5" stroke-width="5.4"/>
<circle cx="2047" cy="2255.8" r="10.9"/>
<circle cx="2057.8" cy="2253.7" r="10.9"/>
<circle cx="2068.6" cy="2274.3" r="10.9"/>
<circle cx="2057.8" cy="2284.2" r="10.9"/>
<circle cx="2057.8" cy="2343.3" r="10.9"/>
<line class="ln" x1="2164.8" y1="2009.4" x2="2164.8" y2="2185.2" stroke-width="5.8"/>
<line class="ln" x1="2153.9" y1="2009.4" x2="2175.7" y2="2009.4" stroke-width="5.4"/>
<line class="ln" x1="2153.9" y1="2185.2" x2="2175.7" y2="2185.2" stroke-width="5.4"/>
<line class="ln" x1="2143.4" y1="2097.3" x2="2186.2" y2="2097.3" stroke-width="5.4"/>
<circle class="op" cx="2154" cy="2005.1" r="10.8"/>
<circle class="op" cx="2175.6" cy="2025.7" r="10.8"/>
<circle class="op" cx="2164.8" cy="2082.3" r="10.8"/>
<circle class="op" cx="2164.8" cy="2161.7" r="10.8"/>
<circle class="op" cx="2164.8" cy="2211.1" r="10.8"/>
<line class="ln" x1="2271.8" y1="2027.7" x2="2271.8" y2="2311.4" stroke-width="5.8"/>
<line class="ln" x1="2260.9" y1="2027.7" x2="2282.7" y2="2027.7" stroke-width="5.4"/>
<line class="ln" x1="2260.9" y1="2311.4" x2="2282.7" y2="2311.4" stroke-width="5.4"/>
<line class="ln" x1="2250.4" y1="2168.9" x2="2293.2" y2="2168.9" stroke-width="5.4"/>
<circle class="op" cx="2271.8" cy="2015.4" r="10.8"/>
<circle class="op" cx="2271.8" cy="2042.8" r="10.8"/>
<circle class="op" cx="2271.8" cy="2164.2" r="10.8"/>
<circle class="op" cx="2271.8" cy="2292.2" r="10.8"/>
<circle class="op" cx="2271.8" cy="2330.3" r="10.8"/>
<line class="ln" x1="2378.8" y1="2133.7" x2="2378.8" y2="2276.4" stroke-width="5.8"/>
<line class="ln" x1="2367.9" y1="2133.7" x2="2389.7" y2="2133.7" stroke-width="5.4"/>
<line class="ln" x1="2367.9" y1="2276.4" x2="2389.7" y2="2276.4" stroke-width="5.4"/>
<line class="ln" x1="2357.4" y1="2204.7" x2="2400.2" y2="2204.7" stroke-width="5.4"/>
<circle class="op" cx="2378.8" cy="2093.2" r="10.8"/>
<circle class="op" cx="2378.8" cy="2183.8" r="10.8"/>
<circle class="op" cx="2378.8" cy="2216.3" r="10.8"/>
<circle class="op" cx="2389.6" cy="2262.6" r="10.8"/>
<circle class="op" cx="2368" cy="2267.5" r="10.8"/>
<line class="ln" x1="1838.5" y1="1964.1" x2="2156.9" y2="1964.1" stroke-width="6.8"/>
<text class="m" x="1997.5" y="1950.6"><tspan font-style="italic">p</tspan> = 0.0144</text>
<line class="ln" x1="1939.2" y1="2163.2" x2="2052" y2="2163.2" stroke-width="6.8"/>
<text class="m" x="1999.2" y="2145.7">ns</text>
<line class="ln" x1="2262.1" y1="1963.1" x2="2375" y2="1963.1" stroke-width="6.8"/>
<text class="m" x="2320.5" y="1950.6">ns</text>
</g>
<g id="B4">
<text class="b m" x="569.5" y="2629.2">TLR5: FLA-ST + ATP</text>
<line class="ln" x1="235" y1="2671.2" x2="235" y2="3229.5" stroke-width="5.8"/>
<line class="ln" x1="211.4" y1="3226.6" x2="860.4" y2="3226.6" stroke-width="5.8"/>
<text class="e" x="199.3" y="3241.6">0</text>
<line class="ln" x1="211.4" y1="3088.4" x2="235" y2="3088.4" stroke-width="5.6"/>
<text class="e" x="199.3" y="3104.8">50</text>
<line class="ln" x1="211.4" y1="2950.3" x2="235" y2="2950.3" stroke-width="5.6"/>
<text class="e" x="199.3" y="2968.1">100</text>
<line class="ln" x1="211.4" y1="2812.2" x2="235" y2="2812.2" stroke-width="5.6"/>
<text class="e" x="199.3" y="2829.7">150</text>
<line class="ln" x1="211.4" y1="2674" x2="235" y2="2674" stroke-width="5.6"/>
<text class="e" x="199.3" y="2692.3">200</text>
<line class="ln" x1="277.8" y1="3226.6" x2="277.8" y2="3250.2" stroke-width="5.6"/>
<text class="m" x="273.8" y="3287.6">C</text>
<line class="ln" x1="384.8" y1="3226.6" x2="384.8" y2="3250.2" stroke-width="5.6"/>
<text class="m" x="381.6" y="3287.6">DMSO</text>
<line class="ln" x1="491.8" y1="3226.6" x2="491.8" y2="3250.2" stroke-width="5.6"/>
<text class="m" x="492.8" y="3287.6">GSK</text>
<line class="ln" x1="598.8" y1="3226.6" x2="598.8" y2="3250.2" stroke-width="5.6"/>
<text class="m" x="594.9" y="3287.6">C</text>
<line class="ln" x1="705.8" y1="3226.6" x2="705.8" y2="3250.2" stroke-width="5.6"/>
<text class="m" x="697.8" y="3287.6">DMSO</text>
<line class="ln" x1="812.8" y1="3226.6" x2="812.8" y2="3250.2" stroke-width="5.6"/>
<text class="m" x="813.4" y="3287.6">GSK</text>
<line class="ln" x1="277.8" y1="3035.1" x2="277.8" y2="3139.6" stroke-width="5.8"/>
<line class="ln" x1="266.9" y1="3035.1" x2="288.7" y2="3035.1" stroke-width="5.4"/>
<line class="ln" x1="266.9" y1="3139.6" x2="288.7" y2="3139.6" stroke-width="5.4"/>
<line class="ln" x1="256.4" y1="3087.6" x2="299.2" y2="3087.6" stroke-width="5.4"/>
<circle cx="267" cy="3027.1" r="10.9"/>
<circle cx="288.6" cy="3042.9" r="10.9"/>
<circle cx="277.8" cy="3094.8" r="10.9"/>
<circle cx="288.6" cy="3129.8" r="10.9"/>
<circle cx="267" cy="3144.4" r="10.9"/>
<line class="ln" x1="384.8" y1="3094.4" x2="384.8" y2="3126.3" stroke-width="5.8"/>
<line class="ln" x1="373.9" y1="3094.4" x2="395.7" y2="3094.4" stroke-width="5.4"/>
<line class="ln" x1="373.9" y1="3126.3" x2="395.7" y2="3126.3" stroke-width="5.4"/>
<line class="ln" x1="363.4" y1="3109.8" x2="406.2" y2="3109.8" stroke-width="5.4"/>
<circle cx="395.6" cy="3089.2" r="10.9"/>
<circle cx="374" cy="3107.1" r="10.9"/>
<circle cx="395.6" cy="3111.9" r="10.9"/>
<circle cx="384.8" cy="3104.7" r="10.9"/>
<circle cx="374" cy="3133.1" r="10.9"/>
<line class="ln" x1="491.8" y1="3104.6" x2="491.8" y2="3160.6" stroke-width="5.8"/>
<line class="ln" x1="480.9" y1="3104.6" x2="502.7" y2="3104.6" stroke-width="5.4"/>
<line class="ln" x1="480.9" y1="3160.6" x2="502.7" y2="3160.6" stroke-width="5.4"/>
<line class="ln" x1="470.4" y1="3132.4" x2="513.2" y2="3132.4" stroke-width="5.4"/>
<circle cx="491.8" cy="3109.8" r="10.9"/>
<circle cx="481" cy="3112.9" r="10.9"/>
<circle cx="502.6" cy="3119.1" r="10.9"/>
<circle cx="491.8" cy="3143.8" r="10.9"/>
<circle cx="491.8" cy="3176.7" r="10.9"/>
<line class="ln" x1="598.8" y1="3009.4" x2="598.8" y2="3133.9" stroke-width="5.8"/>
<line class="ln" x1="587.9" y1="3009.4" x2="609.7" y2="3009.4" stroke-width="5.4"/>
<line class="ln" x1="587.9" y1="3133.9" x2="609.7" y2="3133.9" stroke-width="5.4"/>
<line class="ln" x1="577.4" y1="3071.3" x2="620.2" y2="3071.3" stroke-width="5.4"/>
<circle class="op" cx="598.8" cy="2990.4" r="10.8"/>
<circle class="op" cx="598.8" cy="3033.6" r="10.8"/>
<circle class="op" cx="598.8" cy="3074.8" r="10.8"/>
<circle class="op" cx="598.8" cy="3112.5" r="10.8"/>
<circle class="op" cx="598.8" cy="3147.3" r="10.8"/>
<line class="ln" x1="705.8" y1="3029.5" x2="705.8" y2="3187" stroke-width="5.8"/>
<line class="ln" x1="694.9" y1="3029.5" x2="716.7" y2="3029.5" stroke-width="5.4"/>
<line class="ln" x1="694.9" y1="3187" x2="716.7" y2="3187" stroke-width="5.4"/>
<line class="ln" x1="684.4" y1="3108.8" x2="727.2" y2="3108.8" stroke-width="5.4"/>
<circle class="op" cx="705.8" cy="2997.6" r="10.8"/>
<circle class="op" cx="705.8" cy="3067.6" r="10.8"/>
<circle class="op" cx="705.8" cy="3113.9" r="10.8"/>
<circle class="op" cx="716.6" cy="3175.2" r="10.8"/>
<circle class="op" cx="695" cy="3188.4" r="10.8"/>
<line class="ln" x1="812.8" y1="3133.9" x2="812.8" y2="3190" stroke-width="5.8"/>
<line class="ln" x1="801.9" y1="3133.9" x2="823.7" y2="3133.9" stroke-width="5.4"/>
<line class="ln" x1="801.9" y1="3190" x2="823.7" y2="3190" stroke-width="5.4"/>
<line class="ln" x1="791.4" y1="3162.3" x2="834.2" y2="3162.3" stroke-width="5.4"/>
<circle class="op" cx="812.8" cy="3118.6" r="10.8"/>
<circle class="op" cx="802" cy="3165.4" r="10.8"/>
<circle class="op" cx="812.8" cy="3165.4" r="10.8"/>
<circle class="op" cx="823.6" cy="3165.4" r="10.8"/>
<circle class="op" cx="812.8" cy="3200.4" r="10.8"/>
<line class="ln" x1="275.8" y1="2936.2" x2="594.6" y2="2936.2" stroke-width="6.8"/>
<text class="m" x="435.6" y="2923.9">ns</text>
<line class="ln" x1="385.3" y1="3039.8" x2="498.7" y2="3039.8" stroke-width="6.8"/>
<text class="m" x="444" y="3027.5">ns</text>
<line class="ln" x1="703.1" y1="2935.3" x2="815.5" y2="2935.3" stroke-width="6.8"/>
<text class="m" x="761.2" y="2923.2">ns</text>
</g>
<g id="B5">
<text class="b m" x="1305.7" y="2628.8">TLR7: ssRNA40 + ATP</text>
<line class="ln" x1="997.1" y1="2671.2" x2="997.1" y2="3229.4" stroke-width="5.8"/>
<line class="ln" x1="973.5" y1="3226.5" x2="1622.5" y2="3226.5" stroke-width="5.8"/>
<text class="e" x="959" y="3245.9">0</text>
<line class="ln" x1="973.5" y1="3088.4" x2="997.1" y2="3088.4" stroke-width="5.6"/>
<text class="e" x="959" y="3110.3">50</text>
<line class="ln" x1="973.5" y1="2950.2" x2="997.1" y2="2950.2" stroke-width="5.6"/>
<text class="e" x="959" y="2970.8">100</text>
<line class="ln" x1="973.5" y1="2812.1" x2="997.1" y2="2812.1" stroke-width="5.6"/>
<text class="e" x="959" y="2831">150</text>
<line class="ln" x1="973.5" y1="2674" x2="997.1" y2="2674" stroke-width="5.6"/>
<text class="e" x="959" y="2697.3">200</text>
<line class="ln" x1="1039.9" y1="3226.5" x2="1039.9" y2="3250.1" stroke-width="5.6"/>
<text class="m" x="1038.9" y="3287.5">C</text>
<line class="ln" x1="1146.9" y1="3226.5" x2="1146.9" y2="3250.1" stroke-width="5.6"/>
<text class="m" x="1146.2" y="3287.5">DMSO</text>
<line class="ln" x1="1253.9" y1="3226.5" x2="1253.9" y2="3250.1" stroke-width="5.6"/>
<text class="m" x="1258.5" y="3287.5">GSK</text>
<line class="ln" x1="1360.9" y1="3226.5" x2="1360.9" y2="3250.1" stroke-width="5.6"/>
<text class="m" x="1360.2" y="3287.5">C</text>
<line class="ln" x1="1467.9" y1="3226.5" x2="1467.9" y2="3250.1" stroke-width="5.6"/>
<text class="m" x="1462.9" y="3287.5">DMSO</text>
<line class="ln" x1="1574.9" y1="3226.5" x2="1574.9" y2="3250.1" stroke-width="5.6"/>
<text class="m" x="1578.8" y="3287.5">GSK</text>
<line class="ln" x1="1039.9" y1="3110.8" x2="1039.9" y2="3165.4" stroke-width="5.8"/>
<line class="ln" x1="1029" y1="3110.8" x2="1050.8" y2="3110.8" stroke-width="5.4"/>
<line class="ln" x1="1029" y1="3165.4" x2="1050.8" y2="3165.4" stroke-width="5.4"/>
<line class="ln" x1="1018.5" y1="3138.2" x2="1061.3" y2="3138.2" stroke-width="5.4"/>
<circle cx="1029.1" cy="3107.3" r="10.9"/>
<circle cx="1050.7" cy="3120.5" r="10.9"/>
<circle cx="1029.1" cy="3130.4" r="10.9"/>
<circle cx="1050.7" cy="3150.5" r="10.9"/>
<circle cx="1039.9" cy="3179.8" r="10.9"/>
<line class="ln" x1="1146.9" y1="3144.5" x2="1146.9" y2="3178.1" stroke-width="5.8"/>
<line class="ln" x1="1136" y1="3144.5" x2="1157.8" y2="3144.5" stroke-width="5.4"/>
<line class="ln" x1="1136" y1="3178.1" x2="1157.8" y2="3178.1" stroke-width="5.4"/>
<line class="ln" x1="1125.5" y1="3161.3" x2="1168.3" y2="3161.3" stroke-width="5.4"/>
<circle cx="1146.9" cy="3141.1" r="10.9"/>
<circle cx="1136.1" cy="3156.1" r="10.9"/>
<circle cx="1157.7" cy="3158.6" r="10.9"/>
<circle cx="1146.9" cy="3163.3" r="10.9"/>
<circle cx="1146.9" cy="3187" r="10.9"/>
<line class="ln" x1="1253.9" y1="3144.8" x2="1253.9" y2="3195.2" stroke-width="5.8"/>
<line class="ln" x1="1243" y1="3144.8" x2="1264.8" y2="3144.8" stroke-width="5.4"/>
<line class="ln" x1="1243" y1="3195.2" x2="1264.8" y2="3195.2" stroke-width="5.4"/>
<line class="ln" x1="1232.5" y1="3170.1" x2="1275.3" y2="3170.1" stroke-width="5.4"/>
<circle cx="1253.9" cy="3133.5" r="10.9"/>
<circle cx="1243.1" cy="3161.2" r="10.9"/>
<circle cx="1264.7" cy="3175.2" r="10.9"/>
<circle cx="1253.9" cy="3179.8" r="10.9"/>
<circle cx="1253.9" cy="3202.8" r="10.9"/>
<line class="ln" x1="1360.9" y1="2903.2" x2="1360.9" y2="3117.3" stroke-width="5.8"/>
<line class="ln" x1="1350" y1="2903.2" x2="1371.8" y2="2903.2" stroke-width="5.4"/>
<line class="ln" x1="1350" y1="3117.3" x2="1371.8" y2="3117.3" stroke-width="5.4"/>
<line class="ln" x1="1339.5" y1="3010.2" x2="1382.3" y2="3010.2" stroke-width="5.4"/>
<circle class="op" cx="1350.1" cy="2889.2" r="10.8"/>
<circle class="op" cx="1371.7" cy="2908" r="10.8"/>
<circle class="op" cx="1360.9" cy="3033.5" r="10.8"/>
<circle class="op" cx="1371.7" cy="3105.5" r="10.8"/>
<circle class="op" cx="1350.1" cy="3116.6" r="10.8"/>
<line class="ln" x1="1467.9" y1="3106.6" x2="1467.9" y2="3185.2" stroke-width="5.8"/>
<line class="ln" x1="1457" y1="3106.6" x2="1478.8" y2="3106.6" stroke-width="5.4"/>
<line class="ln" x1="1457" y1="3185.2" x2="1478.8" y2="3185.2" stroke-width="5.4"/>
<line class="ln" x1="1446.5" y1="3145" x2="1489.3" y2="3145" stroke-width="5.4"/>
<circle class="op" cx="1467.9" cy="3089.9" r="10.8"/>
<circle class="op" cx="1478.7" cy="3136.8" r="10.8"/>
<circle class="op" cx="1457.1" cy="3143" r="10.8"/>
<circle class="op" cx="1478.7" cy="3164.6" r="10.8"/>
<circle class="op" cx="1467.9" cy="3196.9" r="10.8"/>
<line class="ln" x1="1574.9" y1="3059.2" x2="1574.9" y2="3170.2" stroke-width="5.8"/>
<line class="ln" x1="1564" y1="3059.2" x2="1585.8" y2="3059.2" stroke-width="5.4"/>
<line class="ln" x1="1564" y1="3170.2" x2="1585.8" y2="3170.2" stroke-width="5.4"/>
<line class="ln" x1="1553.5" y1="3114.8" x2="1596.3" y2="3114.8" stroke-width="5.4"/>
<circle class="op" cx="1564.1" cy="3060.7" r="10.8"/>
<circle class="op" cx="1585.7" cy="3075.1" r="10.8"/>
<circle class="op" cx="1564.1" cy="3088" r="10.8"/>
<circle class="op" cx="1585.7" cy="3170.4" r="10.8"/>
<circle class="op" cx="1564.1" cy="3178.6" r="10.8"/>
<line class="ln" x1="1040.4" y1="2848.6" x2="1358.6" y2="2848.6" stroke-width="6.8"/>
<text class="m" x="1199.3" y="2834.6">ns</text>
<line class="ln" x1="1142.4" y1="3087.7" x2="1254.5" y2="3087.7" stroke-width="6.8"/>
<text class="m" x="1200.1" y="3075.1">ns</text>
<line class="ln" x1="1461" y1="3016.4" x2="1572.8" y2="3016.4" stroke-width="6.8"/>
<text class="m" x="1519" y="3003.6">ns</text>
</g>
<g id="B6">
<text class="b m" x="2117.1" y="2629.1">TLR9: ODN1826 + ATP</text>
<line class="ln" x1="1801" y1="2671.2" x2="1801" y2="3229.7" stroke-width="5.8"/>
<line class="ln" x1="1777.4" y1="3226.8" x2="2426.4" y2="3226.8" stroke-width="5.8"/>
<text class="e" x="1759.5" y="3243.4">0</text>
<line class="ln" x1="1777.4" y1="3088.6" x2="1801" y2="3088.6" stroke-width="5.6"/>
<text class="e" x="1759.5" y="3105.8">50</text>
<line class="ln" x1="1777.4" y1="2950.4" x2="1801" y2="2950.4" stroke-width="5.6"/>
<text class="e" x="1759.5" y="2967.9">100</text>
<line class="ln" x1="1777.4" y1="2812.2" x2="1801" y2="2812.2" stroke-width="5.6"/>
<text class="e" x="1759.5" y="2829.4">150</text>
<line class="ln" x1="1777.4" y1="2674" x2="1801" y2="2674" stroke-width="5.6"/>
<text class="e" x="1759.5" y="2692.9">200</text>
<line class="ln" x1="1843.8" y1="3226.8" x2="1843.8" y2="3250.4" stroke-width="5.6"/>
<text class="m" x="1839.3" y="3287.8">C</text>
<line class="ln" x1="1950.8" y1="3226.8" x2="1950.8" y2="3250.4" stroke-width="5.6"/>
<text class="m" x="1946.6" y="3287.8">DMSO</text>
<line class="ln" x1="2057.8" y1="3226.8" x2="2057.8" y2="3250.4" stroke-width="5.6"/>
<text class="m" x="2058.3" y="3287.8">GSK</text>
<line class="ln" x1="2164.8" y1="3226.8" x2="2164.8" y2="3250.4" stroke-width="5.6"/>
<text class="m" x="2157.4" y="3287.8">C</text>
<line class="ln" x1="2271.8" y1="3226.8" x2="2271.8" y2="3250.4" stroke-width="5.6"/>
<text class="m" x="2263.3" y="3287.8">DMSO</text>
<line class="ln" x1="2378.8" y1="3226.8" x2="2378.8" y2="3250.4" stroke-width="5.6"/>
<text class="m" x="2379.2" y="3287.8">GSK</text>
<circle cx="1833.3" cy="3220.8" r="10.9"/>
<circle cx="1854.3" cy="3220.8" r="10.9"/>
<circle cx="1839.1" cy="3216.3" r="10.9"/>
<circle cx="1848.3" cy="3216.3" r="10.9"/>
<circle cx="1843.8" cy="3220.8" r="10.9"/>
<circle cx="1945.2" cy="3214.2" r="10.9"/>
<circle cx="1960.7" cy="3217.7" r="10.9"/>
<circle cx="1940.1" cy="3220.8" r="10.9"/>
<circle cx="1961.5" cy="3224.9" r="10.9"/>
<circle cx="1950.8" cy="3222.9" r="10.9"/>
<circle cx="2052.3" cy="3220.8" r="10.9"/>
<circle cx="2047.1" cy="3224.9" r="10.9"/>
<circle cx="2068.1" cy="3224.5" r="10.9"/>
<circle cx="2057.8" cy="3224.9" r="10.9"/>
<circle cx="2062.8" cy="3222" r="10.9"/>
<line class="ln" x1="2143.4" y1="3223" x2="2186.2" y2="3223" stroke-width="5.4"/>
<circle class="op" cx="2154.6" cy="3224" r="10.8"/>
<circle class="op" cx="2159.8" cy="3221.8" r="10.8"/>
<circle class="op" cx="2164.8" cy="3222.9" r="10.8"/>
<circle class="op" cx="2169.8" cy="3221.8" r="10.8"/>
<circle class="op" cx="2175" cy="3224" r="10.8"/>
<line class="ln" x1="2250.4" y1="3222.5" x2="2293.2" y2="3222.5" stroke-width="5.4"/>
<circle class="op" cx="2261.6" cy="3225" r="10.8"/>
<circle class="op" cx="2266.8" cy="3219.6" r="10.8"/>
<circle class="op" cx="2271.8" cy="3222.9" r="10.8"/>
<circle class="op" cx="2276.8" cy="3220.7" r="10.8"/>
<circle class="op" cx="2282" cy="3225" r="10.8"/>
<line class="ln" x1="2357.4" y1="3221" x2="2400.2" y2="3221" stroke-width="5.4"/>
<circle class="op" cx="2373.4" cy="3211.6" r="10.8"/>
<circle class="op" cx="2385.3" cy="3216.4" r="10.8"/>
<circle class="op" cx="2368" cy="3226.1" r="10.8"/>
<circle class="op" cx="2389.6" cy="3226.1" r="10.8"/>
<circle class="op" cx="2378.8" cy="3225" r="10.8"/>
<line class="ln" x1="1838.2" y1="3101.4" x2="2157.3" y2="3101.4" stroke-width="6.8"/>
<text class="m" x="1997.9" y="3087.7">ns</text>
<line class="ln" x1="1943.2" y1="3177.6" x2="2056.4" y2="3177.6" stroke-width="6.8"/>
<text class="m" x="2002.2" y="3164.8">ns</text>
<line class="ln" x1="2263.2" y1="3177.5" x2="2376" y2="3177.5" stroke-width="6.8"/>
<text class="m" x="2322" y="3165">ns</text>
</g>
</svg></body></html>
